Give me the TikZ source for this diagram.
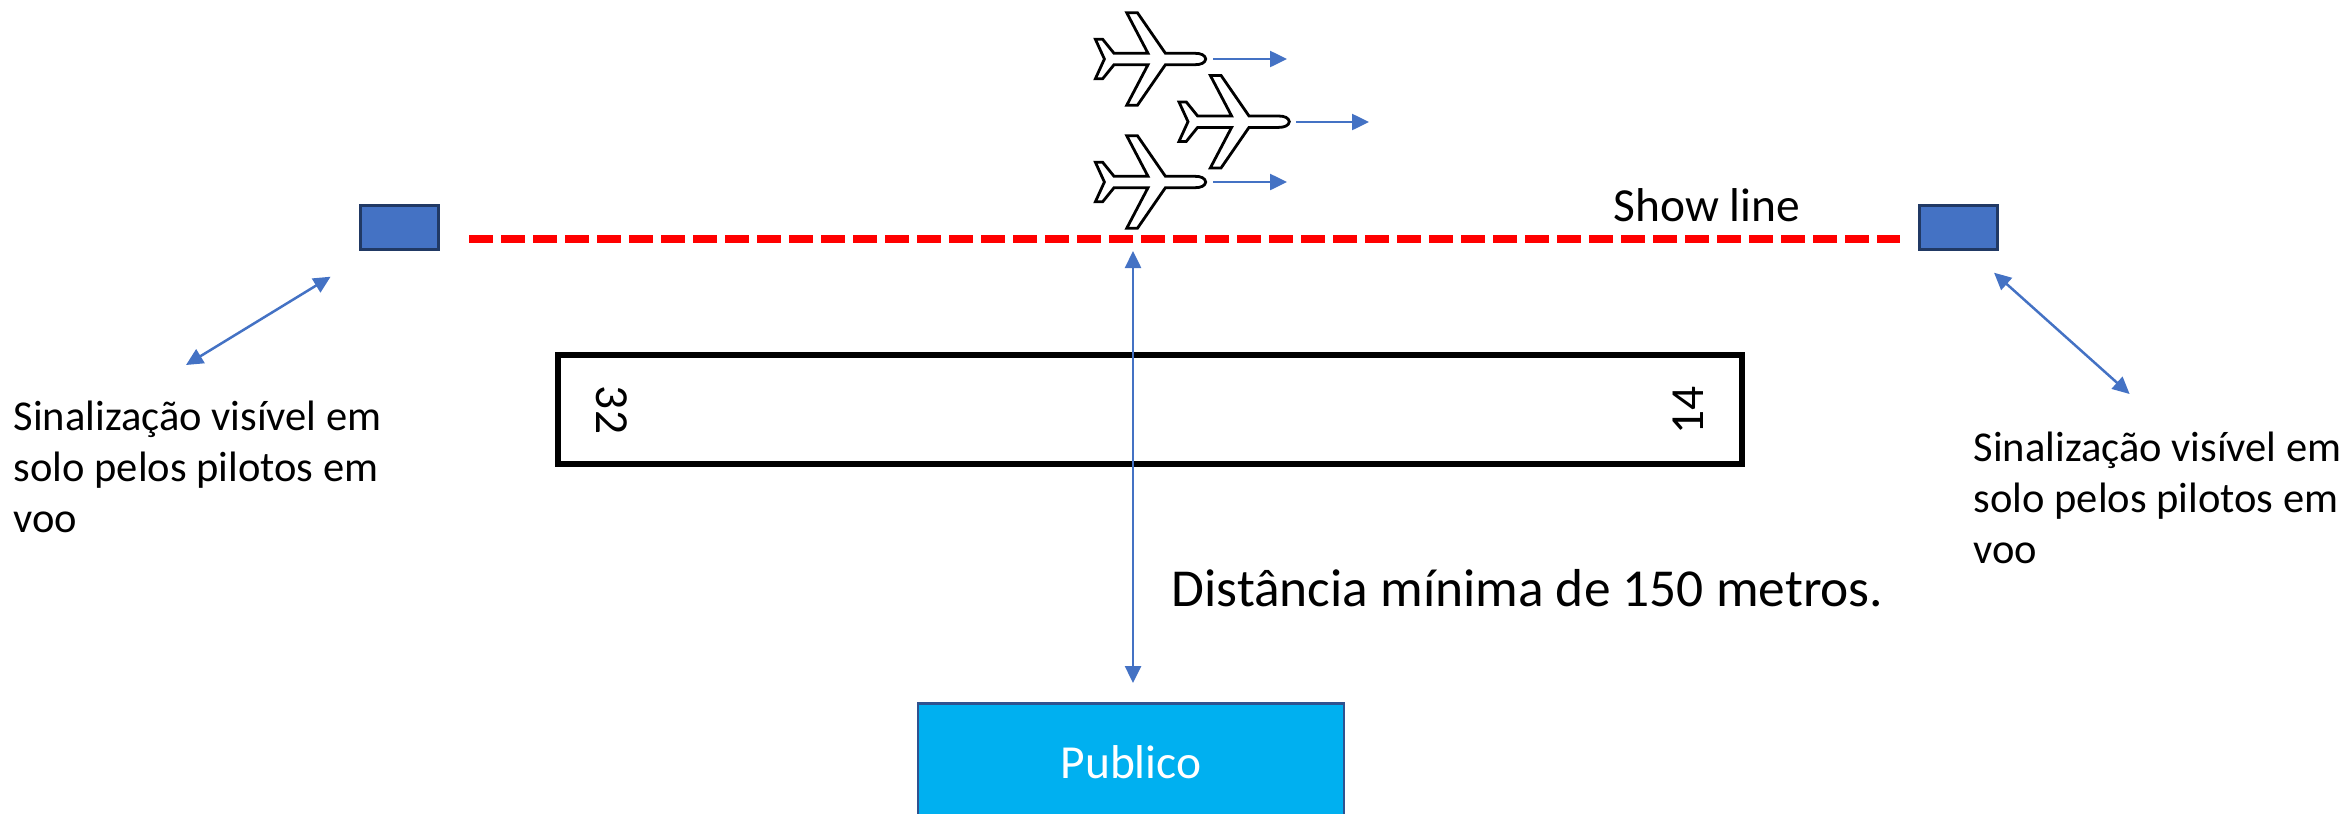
\documentclass[tikz,border=0pt]{standalone}
\usepackage{fontspec}
\setmainfont{Carlito}
\usetikzlibrary{arrows.meta}
\definecolor{azul}{HTML}{4472C4}
\definecolor{borda}{HTML}{2F528F}
\definecolor{ceu}{HTML}{00B0F0}
\tikzset{plane/.pic={
  \draw[line width=0.28mm, fill=white, line join=miter]
    (0,0) .. controls (-0.5,-4) and (-5,-5.7) .. (-10.7,-5.7) -- (-40.3,-5.7) -- (-68.3,-46.3) -- (-79,-46.3)
    -- (-57.7,-5.7) -- (-91.7,-5.7) -- (-103,-19.7) -- (-110.3,-19.7) -- (-101.3,0) -- (-110.3,19.7)
    -- (-103,19.7) -- (-91.7,5.7) -- (-57.7,5.7) -- (-79,46.3) -- (-68.3,46.3) -- (-40.3,5.7)
    -- (-10.7,5.7) .. controls (-5,5.7) and (-0.5,4) .. (0,0) -- cycle;
}}
\begin{document}
\begin{tikzpicture}[x=0.1mm, y=-0.1mm]
\tikzstyle{marker} = [draw = borda!70!black, fill = azul, line width = 0.3mm, minimum width = 7.8mm, minimum height = 4.4mm, inner sep = 0]
\tikzstyle{connect} = [{Triangle[length=1.7mm,width=1.6mm]}-{Triangle[length=1.7mm,width=1.6mm]}, draw = azul, fill = azul, line width = 0.25mm]
\tikzstyle{heading} = [-{Triangle[length=1.7mm,width=1.6mm]}, draw = azul, fill = azul, line width = 0.25mm]
\tikzstyle{note} = [align = left, anchor = west, inner sep = 0, font = \fontsize{12.1}{14.6}\selectfont]
\useasboundingbox (0,0) rectangle (2345,813);
  \node[marker] (lmark) at (399.5,227) {};
  \node[marker] (rmark) at (1958,227) {};
  \draw[draw = red, line width = 0.8mm, dash pattern = on 2.4mm off 0.8mm, shorten <= 2.9mm, shorten >= 1.8mm] (lmark.east |- 0,239) -- (rmark.west |- 0,239);
  \node[draw, line width = 0.55mm, minimum width = 118.4mm, minimum height = 10.9mm, inner sep = 0] (runway) at (1150,409.5) {};
  \node[rotate = -90, font = \fontsize{13.5}{16}\selectfont] (num32) at (612,410) {32};
  \node[rotate = 90, font = \fontsize{13.5}{16}\selectfont] (num14) at (1688,410) {14};
  \node[draw = borda, fill = ceu, line width = 0.25mm, minimum width = 42.6mm, minimum height = 11.7mm, text = white, font = \fontsize{13.5}{16}\selectfont] (publico) at (1131,762) {Publico};
  \pic (top) at (1205.7,59) {plane};
  \pic (mid) at (1289.3,121.7) {plane};
  \pic (low) at (1205.7,182) {plane};
  % flight direction
  \coordinate (topa) at (1213,59);
  \coordinate (topb) at (1287,59);
  \coordinate (mida) at (1296,122);
  \coordinate (midb) at (1369,122);
  \coordinate (lowa) at (1213,182);
  \coordinate (lowb) at (1287,182);
  \draw[heading] (topa) -- (topb);
  \draw[heading] (mida) -- (midb);
  \draw[heading] (lowa) -- (lowb);
  % distance and signs
  \coordinate (dtop) at (1133,251);
  \coordinate (dlow) at (1133,683);
  \coordinate (la) at (330.6,276.7);
  \coordinate (lb) at (186,365);
  \coordinate (ra) at (1994,272.7);
  \coordinate (rb) at (2129.6,394);
  \draw[connect] (dtop) -- (dlow);
  \draw[connect] (la) -- (lb);
  \draw[connect] (ra) -- (rb);
  \node[note] (lnote) at (13,467) {Sinalização visível em\\solo pelos pilotos em\\voo};
  \node[note] (rnote) at (1973,498) {Sinalização visível em\\solo pelos pilotos em\\voo};
  \node[note, font = \fontsize{13.5}{16}\selectfont] (show) at (1613,205) {Show line};
  \node[note, font = \fontsize{15.2}{18}\selectfont] (dist) at (1171,588) {Distância mínima de 150 metros.};
\end{tikzpicture}
\end{document}
